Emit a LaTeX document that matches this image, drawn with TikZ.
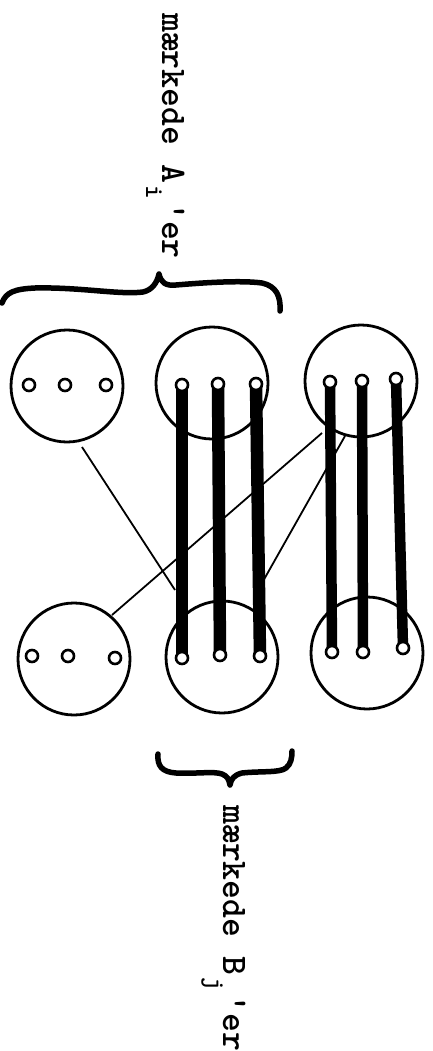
\documentclass[tikz,border=0pt]{standalone}
\usepackage{fontspec}
\newcommand\lowsub[1]{\makebox[0.525em][c]{\raisebox{-\height}{\fontsize{26}{26}\selectfont #1}}}
\begin{document}
\begin{tikzpicture}[x=1pt,y=-1pt,
  bigc/.style={circle,draw,line width=2.8pt,minimum size=112pt,inner sep=0pt},
  dotc/.style={circle,draw,fill=white,line width=2.6pt,minimum size=12pt,inner sep=0pt},
  barA/.style={line width=12.5pt,line cap=butt},
  barB/.style={line width=10.5pt,line cap=butt},
  thin/.style={line width=1.8pt},
  bracestyle/.style={line width=5.5pt,line cap=round,line join=round},
  lbl/.style={font=\ttfamily\bfseries\fontsize{36}{36}\selectfont,inner sep=0pt,anchor=base west,rotate=-90}]
\fill[white] (0,0) rectangle (432,1051);
\useasboundingbox (0,0) rectangle (432,1051);
% big circles
\node[bigc] (A1) at (67,386) {};
\node[bigc] (A2) at (212,383) {};
\node[bigc] (A3) at (361,381) {};
\node[bigc] (B1) at (74,659) {};
\node[bigc] (B2) at (222,657) {};
\node[bigc] (B3) at (367,653) {};
% thin connector endpoints
\coordinate (p1s) at (82,447);
\coordinate (p1e) at (175,590);
\coordinate (p2s) at (112,615);
\coordinate (p2e) at (322,433);
\coordinate (p3s) at (345,436);
\coordinate (p3e) at (262,583);
\draw[thin] (p1s) -- (p1e);
\draw[thin] (p2s) -- (p2e);
\draw[thin] (p3s) -- (p3e);
% dot positions
\coordinate (a11) at (29,385); \coordinate (a12) at (65,385); \coordinate (a13) at (106,385);
\coordinate (a21) at (182,385); \coordinate (a22) at (218,384); \coordinate (a23) at (256,384);
\coordinate (a31) at (330,382); \coordinate (a32) at (362,381); \coordinate (a33) at (396,379);
\coordinate (b11) at (32,656); \coordinate (b12) at (68,656); \coordinate (b13) at (115,658);
\coordinate (b21) at (182,658); \coordinate (b22) at (220,655); \coordinate (b23) at (260,656);
\coordinate (b31) at (332,652); \coordinate (b32) at (363,652); \coordinate (b33) at (403,648);
% thick bars
\draw[barA] (a21) -- (b21);
\draw[barA] (a22) -- (b22);
\draw[barA] (a23) -- (b23);
\draw[barB] (a31) -- (b31);
\draw[barB] (a32) -- (b32);
\draw[barB] (a33) -- (b33);
% dots
\foreach \d in {a11,a12,a13,a21,a22,a23,a31,a32,a33,b11,b12,b13,b21,b22,b23,b31,b32,b33}
  \node[dotc] (n\d) at (\d) {};
% braces
\draw[bracestyle] (2,303) .. controls (6,292) and (15,289) .. (35,288)
  .. controls (80,287) and (120,295) .. (143,292)
  .. controls (152,290) and (157,283) .. (159,274)
  .. controls (161,283) and (166,286) .. (176,285)
  .. controls (200,283) and (240,280) .. (262,283)
  .. controls (276,286) and (281,296) .. (280,311);
\draw[bracestyle] (158,754) .. controls (157,766) and (162,772) .. (176,773)
  .. controls (196,774) and (214,771) .. (222,774)
  .. controls (227,776) and (229,779) .. (230,785)
  .. controls (231,779) and (234,775) .. (242,773)
  .. controls (260,771) and (280,773) .. (286,768)
  .. controls (291,764) and (292,758) .. (292,751);
% labels
\node[lbl] (tA) at (162,13) {mærkede A\lowsub{i}'er};
\node[lbl] (tB) at (223,805) {mærkede B\lowsub{j}'er};
\end{tikzpicture}
\end{document}
